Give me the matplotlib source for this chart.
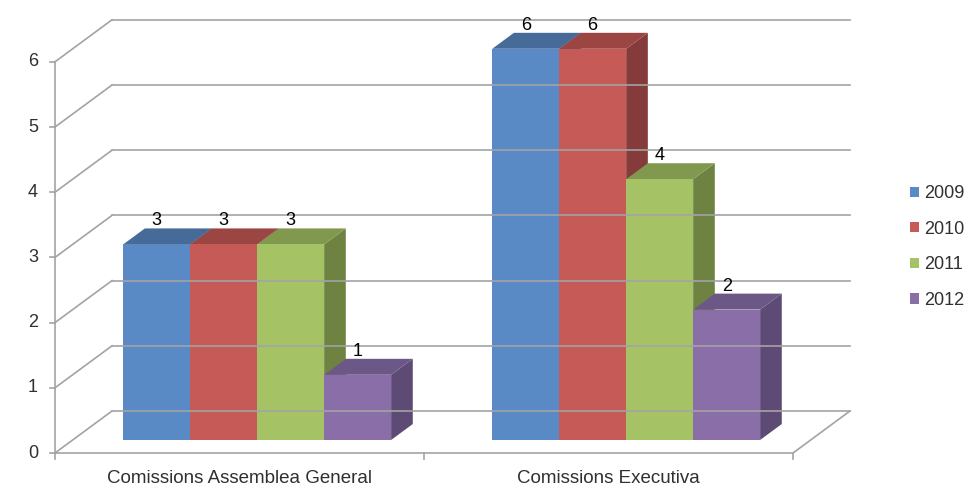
import matplotlib.pyplot as plt
from matplotlib.patches import Polygon, Patch

# data
categories = ["Comissions Assemblea General", "Comissions Executiva"]
years = ["2009", "2010", "2011", "2012"]
values = {
    "2009": [3, 6],
    "2010": [3, 6],
    "2011": [3, 4],
    "2012": [1, 2],
}
yticks = [0, 1, 2, 3, 4, 5, 6]

# colours: front, top, side
front_col = ["#5A8AC6", "#C65A57", "#A5C265", "#8A6EA8"]
top_col = ["#476B99", "#9C4643", "#80994E", "#6C5887"]
side_col = ["#3F5F88", "#843B39", "#6E8242", "#5D4A75"]

# oblique projection (pixel space)
X0, Y0 = 55, 453
CAT_W, UNIT = 369, 65.2
DX, DY = 57, 42
GAP = 0.137
Z0, Z1 = 0.31, 0.69


def proj(x, v, z):
    return X0 + x * CAT_W + z * DX, Y0 - v * UNIT - z * DY


plt.rcParams['font.family'] = ['Liberation Sans', 'DejaVu Sans']
fig = plt.figure(figsize=(9.68, 4.98), dpi=100)
ax = fig.add_axes([0, 0, 1, 1])
ax.set_xlim(0, 968)
ax.set_ylim(498, 0)
ax.axis('off')

grid_c = "#A3A3A3"
lw = 1.2
txt_c = "#303030"
ncat = len(categories)
vmax = yticks[-1]

# walls / gridlines
for v in yticks:
    (xa, ya), (xb, yb) = proj(0, v, 0), proj(0, v, 1)
    ax.plot([xa, xb], [ya, yb], color=grid_c, lw=lw)
    (xc, yc) = proj(ncat, v, 1)
    ax.plot([xb, xc], [yb, yc], color=grid_c, lw=lw)
    ax.plot([xa - 5, xa], [ya, ya], color=grid_c, lw=lw)
    ax.text(xa - 17, ya, str(v), ha='right', va='center', fontsize=13, color=txt_c)

# front axis line
(xa, ya), (xb, yb) = proj(0, 0, 0), proj(0, vmax, 0)
ax.plot([xa, xb], [ya, yb], color=grid_c, lw=lw)

# floor front and right edges
(xa, ya), (xb, yb), (xc, yc) = proj(0, 0, 0), proj(ncat, 0, 0), proj(ncat, 0, 1)
ax.plot([xa, xb, xc], [ya, yb, yc], color=grid_c, lw=lw)
for i in range(ncat + 1):
    x, y = proj(i, 0, 0)
    ax.plot([x, x], [y, y + 6], color=grid_c, lw=lw)

# category labels
for i, c in enumerate(categories):
    x, y = proj(i + 0.5, 0, 0)
    ax.text(x, y + 25, c, ha='center', va='center', fontsize=13.5, color=txt_c)

# bars
bw = (1 - 2 * GAP) / len(years)
for i in range(ncat):
    for j, yr in enumerate(years):
        h = values[yr][i]
        xl = i + GAP + j * bw
        xr = xl + bw
        side = [proj(xr, 0, Z0), proj(xr, 0, Z1), proj(xr, h, Z1), proj(xr, h, Z0)]
        top = [proj(xl, h, Z0), proj(xr, h, Z0), proj(xr, h, Z1), proj(xl, h, Z1)]
        front = [proj(xl, 0, Z0), proj(xr, 0, Z0), proj(xr, h, Z0), proj(xl, h, Z0)]
        ax.add_patch(Polygon(side, closed=True, fc=side_col[j], ec='none'))
        ax.add_patch(Polygon(top, closed=True, fc=top_col[j], ec='none'))
        ax.add_patch(Polygon(front, closed=True, fc=front_col[j], ec='none'))
        lx, _ = proj(xl + bw / 2, h, Z0)
        _, ly = proj(xl + bw / 2, h, Z1)
        ax.text(lx, ly + 1, str(h), ha='center', va='bottom', fontsize=13, color="black")

# legend
handles = [Patch(facecolor=front_col[j], edgecolor='none', label=yr) for j, yr in enumerate(years)]
fig.legend(handles=handles, loc='center left', bbox_to_anchor=(910 / 968, 1 - 247 / 498),
           frameon=False, fontsize=13, handlelength=0.5, handleheight=0.5,
           handletextpad=0.3, labelspacing=1.03, labelcolor=txt_c,
           borderpad=0, borderaxespad=0)

fig.savefig("out.png", dpi=100)
